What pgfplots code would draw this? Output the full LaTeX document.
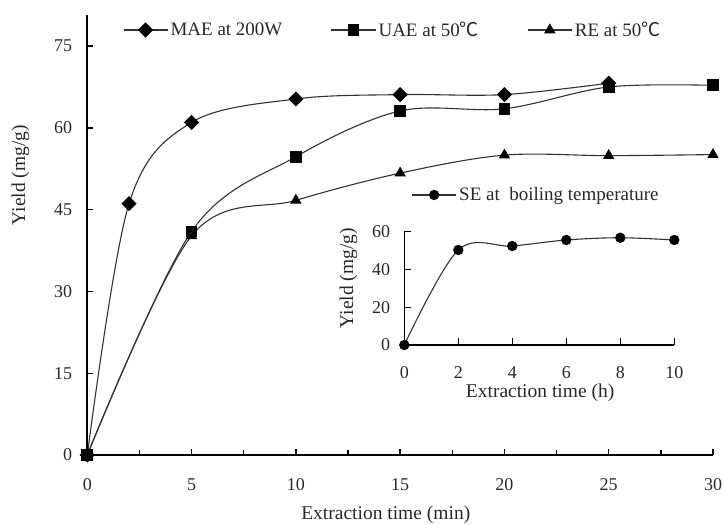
\documentclass[border=0pt]{standalone}
\usepackage{fontspec}
\setmainfont{Liberation Serif}
\newfontfamily\cjk{Noto Sans CJK SC}
\newcommand{\degC}{{\cjk\char"2103}}
\usepackage{pgfplots}
\pgfplotsset{compat=1.18}
\definecolor{lin}{RGB}{50,50,50}
\definecolor{txt}{RGB}{40,40,40}
\pgfplotsset{
  mystyle/.style={
    scale only axis,
    axis x line=bottom, axis y line=left,
    axis line style={line width=1.6pt,-,black},
    tick style={line width=1.3pt,black},
    tick align=inside,
    major tick length=6pt,
    minor tick length=5pt,
    /pgf/number format/assume math mode=true,
    tick label style={font=\fontsize{18}{20}\selectfont, text=txt},
    label style={font=\fontsize{19.5}{22}\selectfont, text=txt},
    every axis plot/.append style={line width=1.1pt, color=lin, smooth, tension=0.55},
    legend cell align=left,
    legend style={draw=none, fill=none, inner sep=0pt, outer sep=0pt,
      font=\fontsize{19}{22}\selectfont, text=txt,
      nodes={inner sep=2.5pt}},
    legend image code/.code={
      \draw[mark repeat=2,mark phase=2,##1] plot coordinates {(0pt,0pt) (22pt,0pt) (44pt,0pt)};},
  }
}
\begin{document}
\begin{tikzpicture}[x=1pt,y=1pt]
\path[use as bounding box] (-87.3pt,-70pt) rectangle (636.7pt,455pt);
\begin{axis}[mystyle,
  at={(0pt,0pt)}, anchor=south west,
  width=625.7pt, height=440pt,
  xmin=0, xmax=30, ymin=0, ymax=80.7,
  xtick={0,5,...,30}, minor x tick num=1,
  ytick={0,15,...,75},
  xticklabel style={anchor=center, inner sep=0pt, yshift=-30pt},
  yticklabel style={anchor=east, inner sep=0pt, xshift=-15pt},
  xlabel={Extraction time (min)},
  ylabel={Yield (mg/g)},
  xlabel style={at={(axis description cs:0.477,-0.136)}, anchor=center, inner sep=0pt},
  ylabel style={at={(axis description cs:-0.107,0.636)}, anchor=center, inner sep=0pt},
  legend columns=3,
  legend style={at={(axis description cs:0.057,0.966)}, anchor=west,
    /tikz/every even column/.append style={column sep=46pt}},
]
\addplot[mark=square*, mark size=4.8pt, mark options={rotate=45, solid, fill=black, draw=black}]
  coordinates {(0,0) (2,46.1) (5,61.0) (10,65.3) (15,66.1) (20,66.1) (25,68.2)};
\addlegendentry{MAE at 200W}
\addplot[mark=square*, mark size=5.3pt, mark options={solid, fill=black, draw=black}]
  coordinates {(0,0) (5,41.0) (10,54.7) (15,63.1) (20,63.5) (25,67.5) (30,67.8)};
\addlegendentry{UAE at 50\degC}
\addplot[mark=triangle*, mark size=5.5pt, mark options={solid, fill=black, draw=black}]
  coordinates {(0,0) (5,40.2) (10,46.7) (15,51.7) (20,55.0) (25,54.9) (30,55.1)};
\addlegendentry{RE at 50\degC}
\end{axis}
\begin{axis}[mystyle,
  at={(317pt,110pt)}, anchor=south west,
  width=270pt, height=113.3pt,
  xmin=0, xmax=10, ymin=0, ymax=60,
  xtick={0,2,...,10}, ytick={0,20,...,60},
  major tick length=6.5pt,
  xticklabel style={anchor=center, inner sep=0pt, yshift=-28pt},
  yticklabel style={anchor=east, inner sep=0pt, xshift=-14pt},
  xlabel={Extraction time (h)},
  ylabel={Yield (mg/g)},
  xlabel style={at={(axis description cs:0.503,-0.425)}, anchor=center, inner sep=0pt},
  ylabel style={at={(axis description cs:-0.207,0.59)}, anchor=center, inner sep=0pt},
  legend style={at={(axis description cs:0.027,1.324)}, anchor=west},
]
\addplot[mark=*, mark size=4.6pt, mark options={solid, fill=black, draw=black}]
  coordinates {(0,0) (2,50.3) (4,52.4) (6,55.6) (8,56.8) (10,55.6)};
\addlegendentry{SE at\ \ boiling temperature}
\end{axis}
\end{tikzpicture}
\end{document}
